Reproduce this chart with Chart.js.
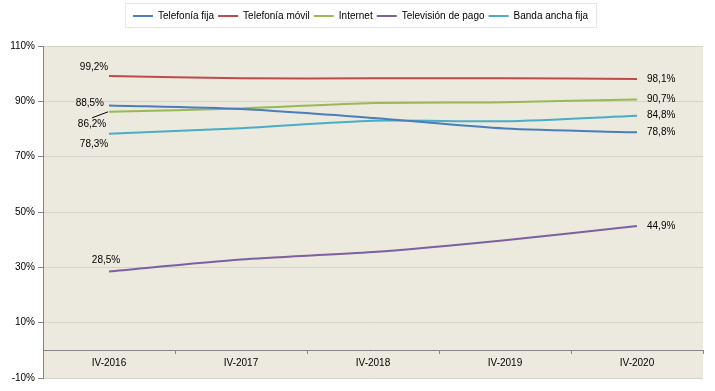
<!DOCTYPE html>
<html>
<head>
<meta charset="utf-8">
<script src="https://cdn.jsdelivr.net/npm/chart.js@4.4.1/dist/chart.umd.min.js"></script>
<style>
    html, body { margin: 0; padding: 0; background: #fff; }
    #wrap { width: 715px; height: 391px; position: relative; }
</style>
</head>
<body>
<div id="wrap"><canvas id="chart"></canvas></div>
<script>
const periods = ['IV-2016', 'IV-2017', 'IV-2018', 'IV-2019', 'IV-2020'];
const telefoniaFija = [88.5, 87.2, 84.0, 80.2, 78.8];
const telefoniaMovil = [99.2, 98.3, 98.3, 98.3, 98.1];
const internet = [86.2, 87.4, 89.4, 89.7, 90.7];
const televisionPago = [28.5, 32.8, 35.5, 39.8, 44.9];
const bandaAncha = [78.3, 80.3, 83.0, 82.8, 84.8];
const yTicks = [-10, 10, 30, 50, 70, 90, 110];

const FONT = "'Liberation Sans', Arial, sans-serif";

// label placement per series: [datasetIndex, pointIndex, dx, dy, align]
const LABEL_SPOTS = [
    [1, 0, -15, -9, 'center'],
    [0, 0, -5, -2, 'right'],
    [2, 0, -17, 12, 'center'],
    [4, 0, -15, 11, 'center'],
    [3, 0, -3, -11, 'center'],
    [1, 4, 10, 0, 'left'],
    [2, 4, 10, 0, 'left'],
    [4, 4, 10, 0, 'left'],
    [0, 4, 10, 0, 'left'],
    [3, 4, 10, 0, 'left']
];

// nudge legend so it sits where the original puts it
const legendShift = {
    id: 'legendShift',
    afterLayout(chart) {
        const lg = chart.legend;
        if (lg) {
            lg.left += 9;
            lg.right += 9;
            lg.top -= 15;
            lg.bottom -= 15;
        }
    }
};

const plotBackground = {
    id: 'plotBackground',
    beforeDraw(chart) {
        const { ctx, chartArea: a, legend } = chart;
        ctx.save();
        ctx.fillStyle = '#ECE9DF';
        ctx.fillRect(a.left, a.top, a.right - a.left, a.bottom - a.top);

        if (legend && legend.legendHitBoxes.length) {
            const boxes = legend.legendHitBoxes;
            const x0 = boxes[0].left - 8;
            const x1 = boxes[boxes.length - 1].left + boxes[boxes.length - 1].width + 8;
            const y0 = boxes[0].top - 8;
            const y1 = boxes[0].top + boxes[0].height + 6;
            ctx.fillStyle = '#fff';
            ctx.fillRect(x0, y0, x1 - x0, y1 - y0);
            ctx.strokeStyle = '#E6E6E6';
            ctx.lineWidth = 1;
            ctx.strokeRect(x0 + 0.5, y0 + 0.5, x1 - x0, y1 - y0);
        }
        ctx.restore();
    }
};

const valueLabels = {
    id: 'valueLabels',
    afterDatasetsDraw(chart) {
        const { ctx } = chart;
        ctx.save();
        ctx.font = '10px ' + FONT;
        ctx.fillStyle = '#000';
        ctx.textBaseline = 'middle';
        LABEL_SPOTS.forEach(([di, pi, dx, dy, align]) => {
            const pt = chart.getDatasetMeta(di).data[pi];
            const v = chart.data.datasets[di].data[pi];
            ctx.textAlign = align;
            ctx.fillText(v.toFixed(1).replace('.', ',') + '%', pt.x + dx, pt.y + dy);
        });

        // leader line for Internet first label
        const p = chart.getDatasetMeta(2).data[0];
        ctx.strokeStyle = '#000';
        ctx.lineWidth = 1;
        ctx.beginPath();
        ctx.moveTo(p.x - 1, p.y);
        ctx.lineTo(p.x - 17, p.y + 6);
        ctx.stroke();
        ctx.restore();
    }
};

const series = [
    { label: 'Telefonía fija', data: telefoniaFija, color: '#4A7EBB' },
    { label: 'Telefonía móvil', data: telefoniaMovil, color: '#BE4B48' },
    { label: 'Internet', data: internet, color: '#98B954' },
    { label: 'Televisión de pago', data: televisionPago, color: '#7D60A0' },
    { label: 'Banda ancha fija', data: bandaAncha, color: '#4BACC6' }
];

new Chart(document.getElementById('chart'), {
    type: 'line',
    data: {
        labels: periods,
        datasets: series.map(s => ({
            label: s.label,
            data: s.data,
            borderColor: s.color,
            backgroundColor: s.color,
            borderWidth: 2,
            pointRadius: 0,
            tension: 0.25,
            fill: false
        }))
    },
    options: {
        responsive: true,
        maintainAspectRatio: false,
        animation: false,
        layout: { padding: { top: 4, right: 12, bottom: 13, left: 0 } },
        plugins: {
            legend: {
                position: 'top',
                labels: {
                    color: '#000',
                    font: { family: FONT, size: 10 },
                    usePointStyle: true,
                    pointStyle: 'line',
                    pointStyleWidth: 20,
                    padding: 4
                }
            },
            tooltip: { enabled: false }
        },
        scales: {
            x: {
                position: { y: 0 },
                offset: true,
                grid: {
                    offset: true,
                    drawOnChartArea: false,
                    drawTicks: true,
                    tickLength: 3,
                    color: '#868686'
                },
                border: { color: '#868686', width: 1 },
                ticks: {
                    color: '#000',
                    font: { family: FONT, size: 10 },
                    padding: 4,
                    maxRotation: 0
                }
            },
            y: {
                min: -10,
                max: 110,
                afterBuildTicks(scale) {
                    scale.ticks = yTicks.map(v => ({ value: v }));
                },
                afterFit(scale) {
                    scale.width = 43;
                    scale.paddingTop = 46;
                },
                grid: {
                    color: '#D6D3CA',
                    tickLength: 5,
                    tickColor: '#868686'
                },
                border: { color: '#868686', width: 1 },
                ticks: {
                    color: '#000',
                    font: { family: FONT, size: 10 },
                    padding: 3,
                    callback: v => v + '%'
                }
            }
        }
    },
    plugins: [legendShift, plotBackground, valueLabels]
});
</script>
</body>
</html>
